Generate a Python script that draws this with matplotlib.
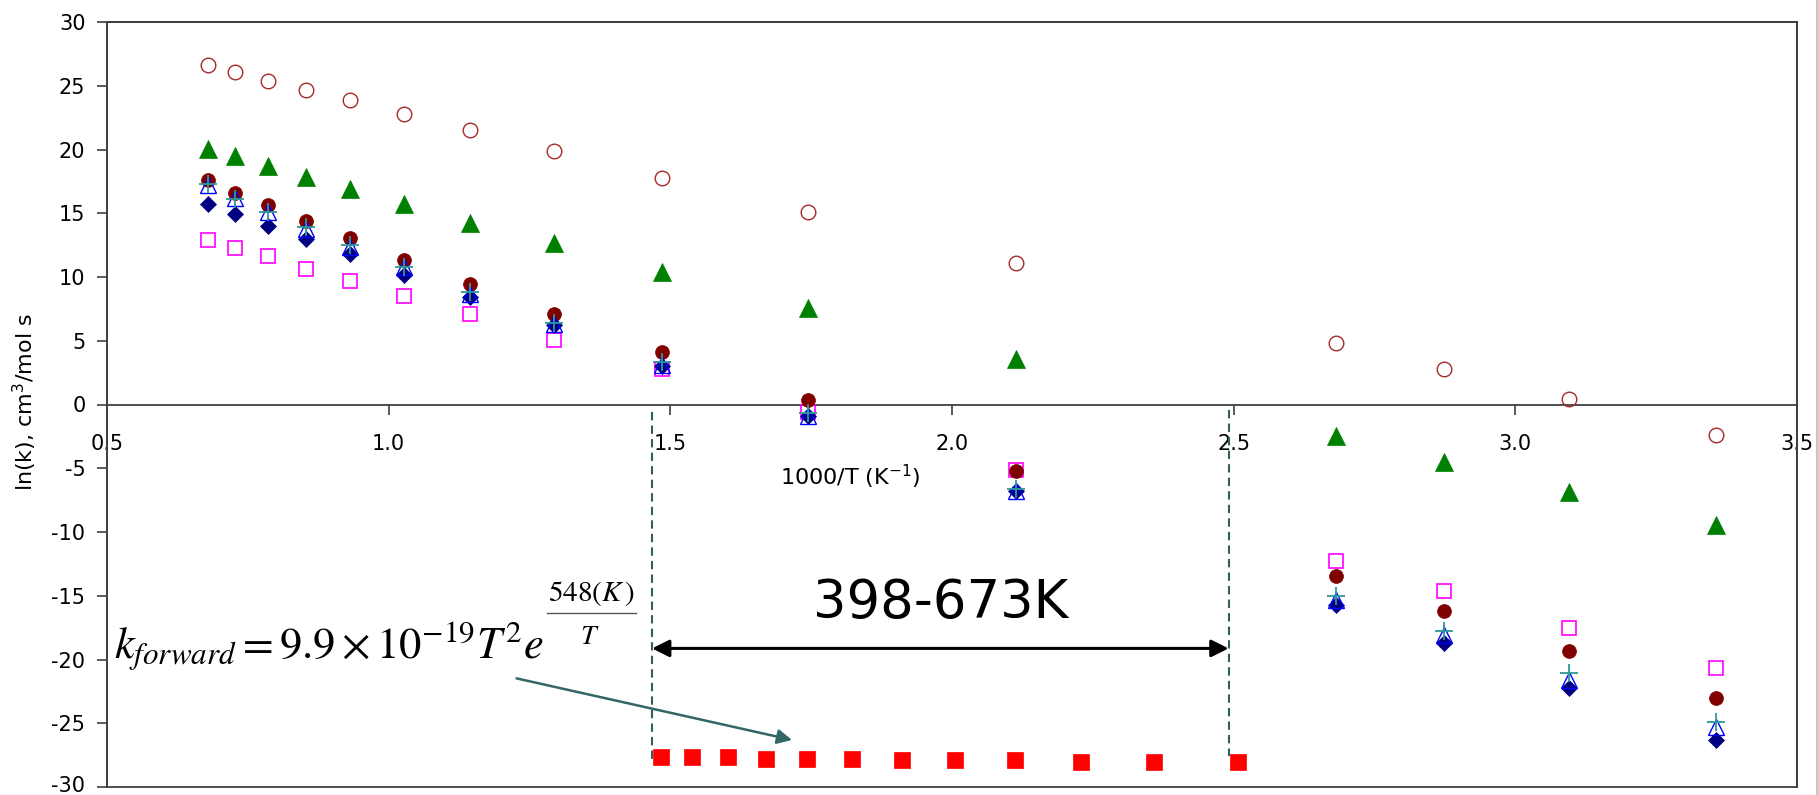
import matplotlib
matplotlib.use("Agg")
import matplotlib.pyplot as plt
import matplotlib.transforms as mtransforms
from matplotlib.patches import Rectangle
from matplotlib.lines import Line2D

# ---------------- data ----------------
inv_T = [0.679, 0.728, 0.786, 0.853, 0.932, 1.028, 1.145, 1.294,
         1.486, 1.745, 2.114, 2.681, 2.874, 3.096, 3.356]

ln_k_open_circle = [26.65, 26.08, 25.37, 24.70, 23.91, 22.79, 21.53, 19.91,
                    17.80, 15.08, 11.06, 4.86, 2.77, 0.47, -2.36]
ln_k_green_tri = [20.04, 19.52, 18.69, 17.85, 16.88, 15.76, 14.27, 12.68,
                  10.40, 7.53, 3.53, -2.49, -4.53, -6.86, -9.48]
ln_k_darkred = [17.59, 16.60, 15.63, 14.40, 13.02, 11.37, 9.44, 7.08,
                4.08, 0.34, -5.19, -13.49, -16.16, -19.31, -23.05]
ln_k_blue_tri = [17.2, 16.23, 15.11, 13.77, 12.36, 10.79, 8.70, 6.35,
                 3.1, -0.9, -6.75, -15.3, -18.1, -21.6, -25.3]
ln_k_teal_plus = [17.3, 16.1, 15.1, 13.9, 12.5, 10.8, 8.8, 6.4,
                  3.3, -0.7, -6.6, -15.0, -17.76, -21.09, -24.89]
ln_k_navy_diamond = [15.76, 14.92, 14.03, 12.99, 11.79, 10.19, 8.44, 6.22,
                     3.0, -0.9, -6.8, -15.72, -18.73, -22.27, -26.33]
ln_k_magenta_sq = [12.88, 12.31, 11.63, 10.66, 9.70, 8.50, 7.08, 5.05,
                   2.75, -0.6, -5.1, -12.26, -14.62, -17.55, -20.7]

inv_T_forward = [1.484, 1.539, 1.603, 1.669, 1.742, 1.823, 1.911, 2.006,
                 2.111, 2.229, 2.359, 2.507]
ln_k_forward = [-27.64, -27.64, -27.64, -27.77, -27.77, -27.77, -27.9, -27.9,
                -27.9, -28.03, -28.03, -28.03]

x_ticks = [0.5, 1.0, 1.5, 2.0, 2.5, 3.0, 3.5]
y_ticks = [-30, -25, -20, -15, -10, -5, 0, 5, 10, 15, 20, 25, 30]
x_label = r"1000/T (K$^{-1}$)"
y_label = r"ln(k), cm$^{3}$/mol s"
range_text = "398-673K"
range_lo, range_hi = 1.4675, 2.491

# ---------------- figure ----------------
plt.rcParams["font.family"] = ["DejaVu Sans"]
plt.rcParams["axes.unicode_minus"] = False

W, H = 1818, 795
fig = plt.figure(figsize=(W / 100, H / 100), dpi=100)
ax = fig.add_axes([107 / W, 8 / H, 1690 / W, 765 / H])

ax.set_xlim(0.5, 3.5)
ax.set_ylim(-30, 30)

frame_c = "#404040"
for s in ["top", "left", "right"]:
    ax.spines[s].set_color(frame_c)
    ax.spines[s].set_linewidth(1.3)
ax.spines["bottom"].set_position(("data", 0))
ax.spines["bottom"].set_color(frame_c)
ax.spines["bottom"].set_linewidth(1.3)
ax.add_patch(Rectangle((0, 0), 1, 1, transform=ax.transAxes, fill=False,
                       ec=frame_c, lw=1.3, clip_on=False, zorder=5))

ax.set_xticks(x_ticks)
ax.set_xticklabels([f"{v:.1f}" for v in x_ticks])
ax.set_yticks(y_ticks)
ax.set_yticklabels([str(v) for v in y_ticks])
ax.tick_params(axis="x", direction="out", length=7, width=1.2, pad=14,
               labelsize=15, color=frame_c)
ax.tick_params(axis="y", direction="out", length=7, width=1.2, pad=8.5,
               labelsize=15, color=frame_c)

# keep the lowest y tick label inside the canvas
lowest = ax.get_yticklabels()[0]
lowest.set_transform(lowest.get_transform() +
                     mtransforms.ScaledTranslation(0, 3 / 100, fig.dpi_scale_trans))

ax.set_xlabel(x_label, fontsize=16, va="top")
ax.xaxis.set_label_coords(0.4396, 0.4235)
ax.set_ylabel(y_label, fontsize=16)
ax.yaxis.set_label_coords(-0.040, 0.503)

# ---------------- series ----------------
ax.plot(inv_T, ln_k_magenta_sq, ls="none", marker="s", ms=10.5, mfc="none",
        mec="#FF00FF", mew=1.2, zorder=3)
ax.plot(inv_T, ln_k_open_circle, ls="none", marker="o", ms=10.5, mfc="none",
        mec="#A52A2A", mew=1.0, zorder=3)
ax.plot(inv_T, ln_k_green_tri, ls="none", marker="^", ms=12.5, mfc="#008000",
        mec="#008000", mew=0.5, zorder=3)
ax.plot(inv_T, ln_k_darkred, ls="none", marker="o", ms=10, mfc="#800000",
        mec="#800000", mew=0.5, zorder=4)
ax.plot(inv_T, ln_k_navy_diamond, ls="none", marker="D", ms=7.8, mfc="#000080",
        mec="#000080", mew=0.5, zorder=4)
ax.plot(inv_T, ln_k_blue_tri, ls="none", marker="^", ms=12, mfc="none",
        mec="#0000FF", mew=1.0, zorder=5)
ax.plot(inv_T, ln_k_teal_plus, ls="none", marker="+", ms=13, mec="#2E9999",
        mew=1.3, zorder=6)
ax.plot(inv_T_forward, ln_k_forward, ls="none", marker="s", ms=12,
        mfc="#FF0000", mec="#FF0000", mew=0.5, zorder=4)

# ---------------- annotations ----------------
dash_c = "#2F5F5F"
ax.plot([range_lo, range_lo], [-0.56, -27.88], color=dash_c, lw=1.5,
        dashes=(4, 2.5), zorder=2)
ax.plot([range_hi, range_hi], [-0.4, -27.6], color=dash_c, lw=1.5,
        dashes=(4, 2.5), zorder=2)
ax.annotate("", xy=(range_hi, -19.13), xytext=(range_lo, -19.13),
            arrowprops=dict(arrowstyle="<|-|>", color="black", lw=2.2,
                            mutation_scale=26, shrinkA=0, shrinkB=0))
ax.text(1.979, -16.77, range_text, fontsize=38, ha="center", va="baseline")

ax.annotate("", xy=(1.716, -26.31), xytext=(1.227, -21.48),
            arrowprops=dict(arrowstyle="-|>", color="#336666", lw=1.8,
                            mutation_scale=22, shrinkA=0, shrinkB=0))

ax.text(0.5125, -19.88, r"$k_{forward}=9.9\times10^{-19}T^{2}e$",
        fontsize=32, math_fontfamily="stix", ha="left", va="baseline")
ax.text(1.3595, -14.86, r"$548(K\,)$", fontsize=21, math_fontfamily="stix",
        ha="center", va="center")
ax.plot([1.281, 1.439], [-16.38, -16.38], color="#555555", lw=1.0)
ax.text(1.3575, -18.16, r"$T$", fontsize=20, math_fontfamily="stix",
        ha="center", va="center")

# light slide border at right edge
fig.add_artist(Line2D([1 - 1.5 / W, 1 - 1.5 / W], [0, 1],
                      transform=fig.transFigure, color="#C8C8C8", lw=1.5))

fig.savefig("out.png", dpi=100, facecolor="white")
